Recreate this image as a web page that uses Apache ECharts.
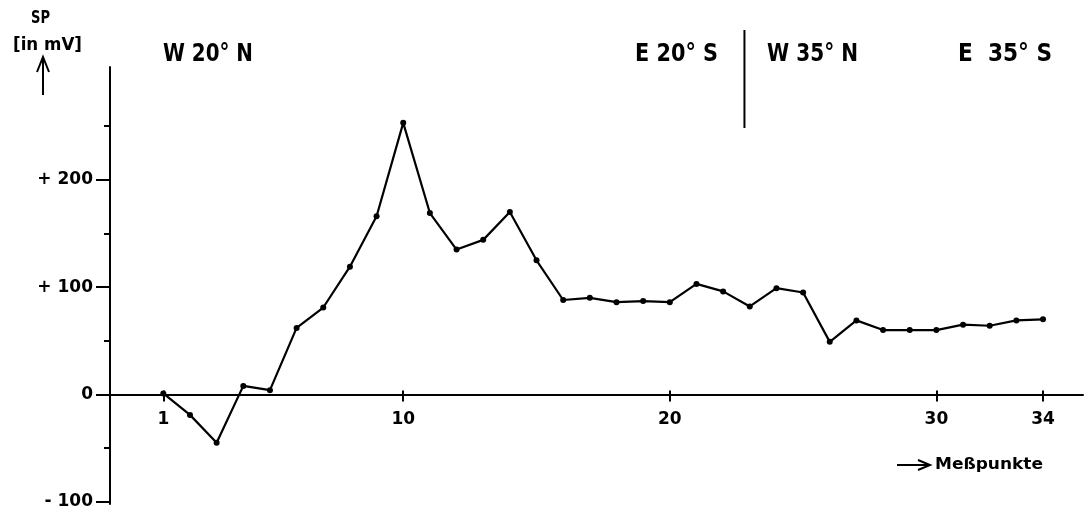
<!DOCTYPE html>
<html>
<head>
<meta charset="utf-8">
<title>SP-Profil</title>
<script src="https://cdn.jsdelivr.net/npm/echarts@6/dist/echarts.min.js"></script>
<style>
  html, body { margin: 0; padding: 0; background: #fff; }
  #chart { width: 1087px; height: 512px; }
</style>
</head>
<body>
<div id="chart"></div>
<script>
// Messpunkte 1..34 and the self-potential read at each (mV)
const points = [1, 2, 3, 4, 5, 6, 7, 8, 9, 10, 11, 12, 13, 14, 15, 16, 17,
                18, 19, 20, 21, 22, 23, 24, 25, 26, 27, 28, 29, 30, 31, 32, 33, 34];
const spValues = [1, -19, -45, 8, 4, 62, 81, 119, 166, 253, 169, 135, 144, 170, 125, 88, 90,
                  86, 87, 86, 103, 96, 82, 99, 95, 49, 69, 60, 60, 60, 65, 64, 69, 70];

// axis ticks and labels
const xTickValues = [1, 10, 20, 30, 34];
const yMajorTicks = [-100, 0, 100, 200];
const yMinorTicks = [-50, 50, 150, 250];

// profile sections along the top, and the boundary between them (in Messpunkt units)
const sectionLabels = ['W 20° N', 'E 20° S', 'W 35° N', 'E  35° S'];
const sectionBoundary = 22.8;

const FONT = '"DejaVu Sans", sans-serif';
const INK = '#000';

// plot area; the Messpunkt axis is drawn in a second grid whose lower edge sits on SP = 0
const X_MIN = -1, X_MAX = 35.5, Y_MIN = -102, Y_MAX = 305;
const GRID = { left: 110, right: 4, top: 67, bottom: 8 };
const plotH = 512 - GRID.top - GRID.bottom;
const zeroFromBottom = GRID.bottom + plotH * (0 - Y_MIN) / (Y_MAX - Y_MIN);

const chart = echarts.init(document.getElementById('chart'), null, { renderer: 'canvas' });

const xCommon = { type: 'value', min: X_MIN, max: X_MAX, position: 'bottom', splitLine: { show: false } };
const yCommon = { type: 'value', min: Y_MIN, max: Y_MAX, position: 'left', splitLine: { show: false } };

chart.setOption({
  animation: false,
  backgroundColor: '#fff',
  grid: [
    Object.assign({ containLabel: false, outerBoundsMode: 'none' }, GRID),
    { left: GRID.left, right: GRID.right, top: GRID.top, bottom: zeroFromBottom,
      containLabel: false, outerBoundsMode: 'none' }
  ],
  xAxis: [
    // data axis of the plot (not drawn)
    Object.assign({}, xCommon, {
      gridIndex: 0, show: false
    }),
    // visible Messpunkt axis along SP = 0
    Object.assign({}, xCommon, {
      gridIndex: 1,
      axisLine: { show: true, onZero: false, lineStyle: { color: INK, width: 2 } },
      axisTick: { show: true, inside: false, length: 7, customValues: xTickValues,
                  lineStyle: { color: INK, width: 2 } },
      axisLabel: { show: true, customValues: xTickValues, margin: 17,
                   fontFamily: FONT, fontSize: 17, fontWeight: 'bold', color: INK }
    }),
    // short upper half of the tick marks
    Object.assign({}, xCommon, {
      gridIndex: 1,
      axisLine: { show: false, onZero: false },
      axisTick: { show: true, inside: true, length: 4, customValues: xTickValues,
                  lineStyle: { color: INK, width: 2 } },
      axisLabel: { show: false }
    })
  ],
  yAxis: [
    Object.assign({}, yCommon, {
      gridIndex: 0,
      axisLine: { show: true, onZero: false, lineStyle: { color: INK, width: 2 } },
      axisTick: { show: true, length: 14, customValues: yMajorTicks,
                  lineStyle: { color: INK, width: 2 } },
      axisLabel: {
        show: true, customValues: yMajorTicks, margin: 17,
        fontFamily: FONT, fontSize: 17, fontWeight: 'bold', color: INK,
        formatter: v => v > 0 ? '+ ' + v : (v < 0 ? '- ' + (-v) : '0')
      }
    }),
    Object.assign({}, yCommon, {
      gridIndex: 0,
      axisLine: { show: false, onZero: false },
      axisTick: { show: true, length: 6, customValues: yMinorTicks,
                  lineStyle: { color: INK, width: 2 } },
      axisLabel: { show: false }
    }),
    { type: 'value', gridIndex: 1, show: false, min: 0, max: 1 }
  ],
  series: [{
    type: 'line',
    xAxisIndex: 0,
    yAxisIndex: 0,
    data: points.map((p, i) => [p, spValues[i]]),
    symbol: 'circle',
    symbolSize: 6,
    showAllSymbol: true,
    clip: false,
    lineStyle: { color: INK, width: 2.2 },
    itemStyle: { color: INK }
  }]
});

// text helper: squeezes or stretches a label horizontally to a given width
const measureCtx = document.createElement('canvas').getContext('2d');
function label(text, left, cy, size, width, weight) {
  const font = (weight || 'normal') + ' ' + size + 'px ' + FONT;
  measureCtx.font = font;
  const sx = width / measureCtx.measureText(text).width;
  return {
    type: 'text', x: left, y: cy, scaleX: sx, scaleY: 1, silent: true,
    style: { text: text, x: 0, y: 0, fill: INK, align: 'left', verticalAlign: 'middle', font: font }
  };
}

const bx = chart.convertToPixel({ xAxisIndex: 0 }, sectionBoundary);
const sectionLeft = [163, 635, 767, 958];
const sectionWidth = [90, 83, 91, 94];

const graphics = [
  label('SP', 31, 19, 17, 19, 'bold'),
  label('[in mV]', 13, 46, 17, 69, 'bold'),
  // upward arrow under the unit
  { type: 'line', silent: true, shape: { x1: 43, y1: 95, x2: 43, y2: 58 },
    style: { stroke: INK, lineWidth: 2 } },
  { type: 'polyline', silent: true, shape: { points: [[37, 72], [43, 57], [49, 72]] },
    style: { stroke: INK, lineWidth: 2, fill: null } },
  // section boundary
  { type: 'line', silent: true, shape: { x1: bx, y1: 30, x2: bx, y2: 128 },
    style: { stroke: INK, lineWidth: 2 } },
  // direction of the Messpunkt axis
  { type: 'line', silent: true, shape: { x1: 897, y1: 465, x2: 929, y2: 465 },
    style: { stroke: INK, lineWidth: 2 } },
  { type: 'polyline', silent: true, shape: { points: [[918, 460], [930, 465], [918, 470]] },
    style: { stroke: INK, lineWidth: 2, fill: null } },
  label('Meßpunkte', 935, 465, 15, 108, 'bold')
];
sectionLabels.forEach((t, i) => graphics.push(label(t, sectionLeft[i], 54, 25, sectionWidth[i], 'bold')));

chart.setOption({ graphic: graphics });
</script>
</body>
</html>
